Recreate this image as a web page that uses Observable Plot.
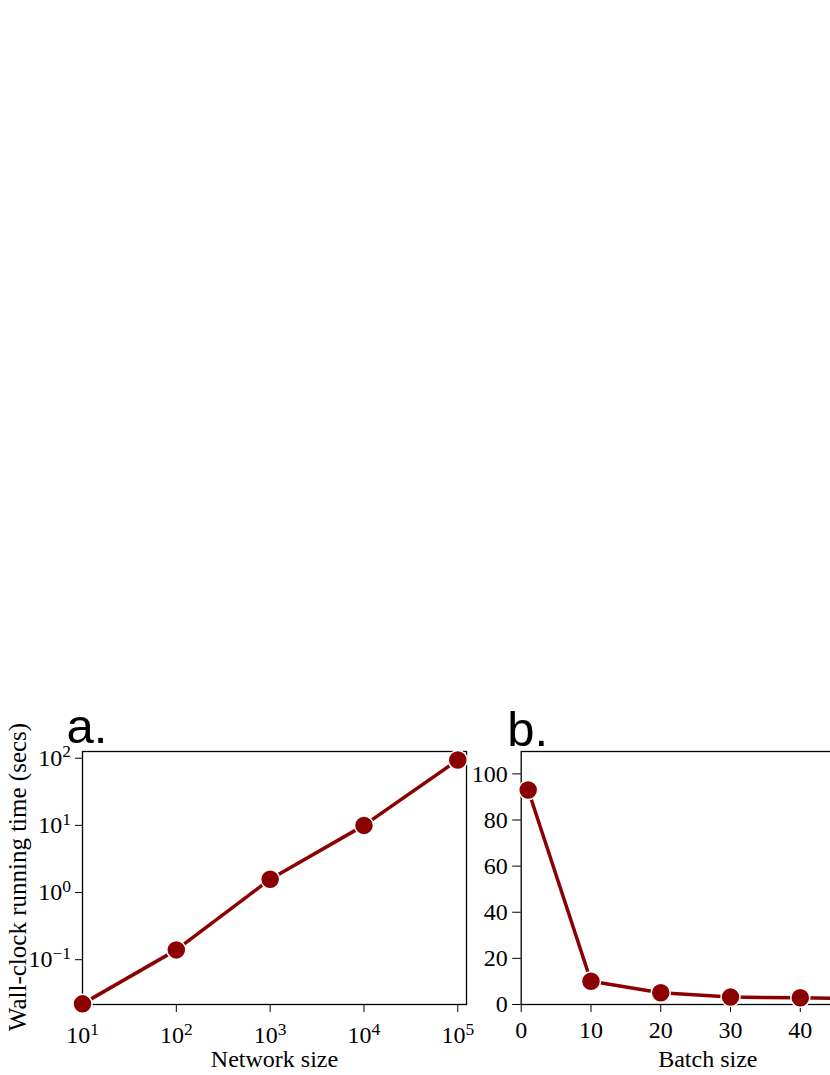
<!DOCTYPE html>
<html><head><meta charset="utf-8">
<script src="https://cdn.jsdelivr.net/npm/d3@7"></script>
<script src="https://cdn.jsdelivr.net/npm/@observablehq/plot@0.6"></script>
<style>
html,body{margin:0;padding:0;background:#fff;overflow:hidden;}
#wrap{position:relative;width:830px;height:1075px;overflow:hidden;background:#fff;}
#wrap svg{position:absolute;}
</style></head><body><div id="wrap"></div>
<script>
// Panel a: running time vs network size (log-log)
const networkSize = [10, 100, 1000, 10000, 100000];
const networkTime = [0.022, 0.14, 1.58, 10, 94];
// Panel b: running time vs batch size
const batchSize = [1, 10, 20, 30, 40, 50];
const batchTime = [93, 10.1, 5.1, 3.2, 2.9, 2.5];
// Ticks and labels
const logTicksX = [10, 100, 1000, 10000, 100000];
const logTicksY = [0.1, 1, 10, 100];
const linTicksX = [0, 10, 20, 30, 40];
const linTicksY = [0, 20, 40, 60, 80, 100];
const panelLetters = ["a.", "b."];
const xLabels = ["Network size", "Batch size"];
const yLabel = "Wall-clock running time (secs)";

const red = "#8b0000";
const dataA = networkSize.map((x, i) => ({x, y: networkTime[i]}));
const dataB = batchSize.map((x, i) => ({x, y: batchTime[i]}));
const supFmt = d => "10^" + Math.round(Math.log10(d));
const serif = "'Liberation Serif', 'Times New Roman', serif";
const sans = "'Liberation Sans', Arial, sans-serif";
const baseStyle = {fontFamily: serif, fontSize: "24px", color: "black", background: "transparent", overflow: "visible"};

const wrap = document.getElementById("wrap");

const plotA = Plot.plot({
  width: 472, height: 385,
  marginLeft: 82, marginRight: 6, marginTop: 61, marginBottom: 71,
  style: baseStyle,
  x: {type: "log", domain: [10, Math.pow(10, 5.093)]},
  y: {type: "log", domain: [Math.pow(10, -1.667), Math.pow(10, 2.1)]},
  marks: [
    Plot.axisX({ticks: logTicksX, tickFormat: supFmt, tickSize: 8, tickPadding: 13.5, fontSize: 24, fontFamily: serif, label: xLabels[0], labelAnchor: "center", labelArrow: "none", labelOffset: 62}),
    Plot.axisY({ticks: logTicksY, tickFormat: supFmt, tickSize: 7, tickPadding: 4.5, fontSize: 24, fontFamily: serif, label: null}),
    Plot.text([yLabel], {frameAnchor: "left", text: d => d, rotate: -90, textAnchor: "middle", lineAnchor: "bottom", dx: -56.5, dy: -1, fontSize: 25, fontFamily: serif}),
    Plot.frame({stroke: "black", strokeWidth: 1.3}),
    Plot.line(dataA, {x: "x", y: "y", stroke: red, strokeWidth: 3.5}),
    Plot.dot(dataA, {x: "x", y: "y", r: 9.5, fill: red, stroke: "white", strokeWidth: 1.5}),
    Plot.text([panelLetters[0]], {frameAnchor: "top-left", text: d => d, textAnchor: "start", lineAnchor: "bottom", dx: -16, dy: -9, fontSize: 49, fontFamily: sans})
  ]
});
plotA.style.left = "0px"; plotA.style.top = "690px";

const plotB = Plot.plot({
  width: 432, height: 385,
  marginLeft: 48.7, marginRight: 10, marginTop: 61, marginBottom: 71,
  style: baseStyle,
  x: {domain: [0, 53.5]},
  y: {domain: [0, 109.7]},
  marks: [
    Plot.axisX({ticks: linTicksX, tickSize: 8, tickPadding: 8.7, fontSize: 24, fontFamily: serif, label: xLabels[1], labelAnchor: "center", labelArrow: "none", labelOffset: 62}),
    Plot.axisY({ticks: linTicksY, tickSize: 8.5, tickPadding: 5, fontSize: 24, fontFamily: serif, label: null}),
    Plot.frame({stroke: "black", strokeWidth: 1.3}),
    Plot.line(dataB, {x: "x", y: "y", stroke: red, strokeWidth: 3.5}),
    Plot.dot(dataB, {x: "x", y: "y", r: 9.5, fill: red, stroke: "white", strokeWidth: 1.5}),
    Plot.text([panelLetters[1]], {frameAnchor: "top-left", text: d => d, textAnchor: "start", lineAnchor: "bottom", dx: -14, dy: -6, fontSize: 49, fontFamily: sans})
  ]
});
plotB.style.left = "472px"; plotB.style.top = "690px";

wrap.appendChild(plotA);
wrap.appendChild(plotB);

// render 10^n tick labels with real superscripts
for (const svg of [plotA, plotB]) {
  svg.querySelectorAll("text").forEach(t => {
    const m = t.textContent.match(/^10\^(-?\d+)$/);
    if (m) {
      t.textContent = "10";
      const ts = document.createElementNS("http://www.w3.org/2000/svg", "tspan");
      ts.setAttribute("dy", "-8.4");
      ts.setAttribute("font-size", "17.5px");
      ts.textContent = m[1].replace("-", "\u2212");
      t.appendChild(ts);
    }
  });
}
</script>
</body></html>
